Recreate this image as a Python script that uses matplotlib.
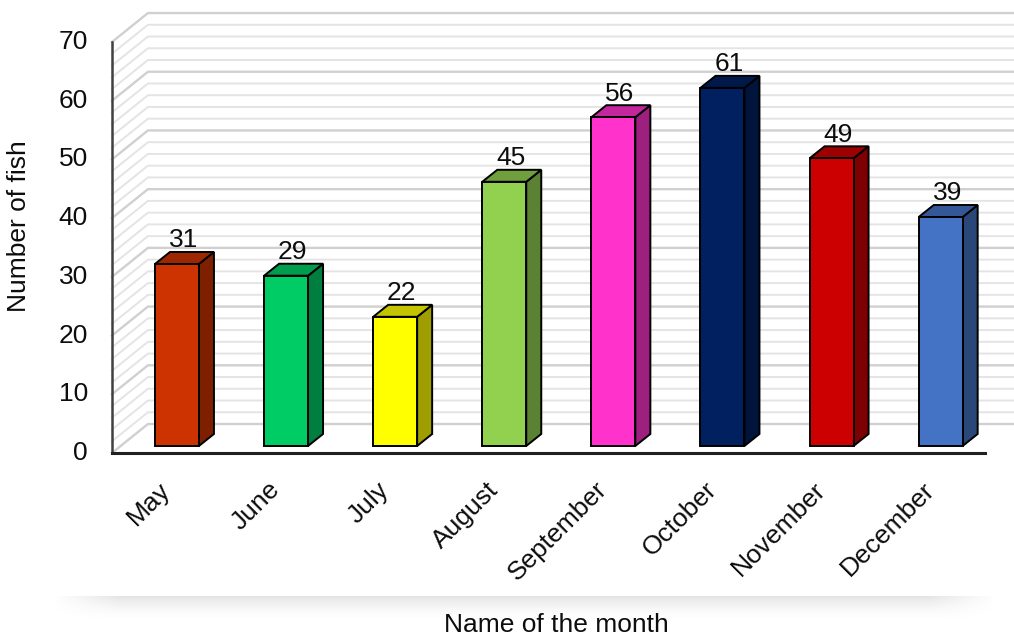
import numpy as np
import matplotlib
matplotlib.use("Agg")
import matplotlib.pyplot as plt
from matplotlib.patches import Polygon
from matplotlib.colors import to_rgb

# Data
months = ["May", "June", "July", "August", "September", "October", "November", "December"]
fish = [31, 29, 22, 45, 56, 61, 49, 39]
bar_colors = ["#CC3300", "#00CC66", "#FFFF00", "#92D050", "#FF33CC", "#002060", "#CC0000", "#4472C4"]
y_ticks = list(range(0, 71, 10))

# Pseudo-3D layout (data units: x = category index, y = value)
axis_x = -0.596          # front left corner of the plot box
floor_end = 7.406        # front right end of the floor
depth_dx, depth_dy = 0.33, 4.94   # offset of the back wall
bar_w = 0.403
bar_dx, bar_dy = 0.1375, 2.04     # depth of each bar
bar_base = 1.2
txt_col = '#0d0d0d'


def shade(c, k):
    r, g, b = to_rgb(c)
    return (r * k, g * k, b * k)


plt.rcParams['font.family'] = ['Liberation Sans', 'DejaVu Sans']

fig = plt.figure(figsize=(10.14, 6.39), dpi=100)
ax = fig.add_axes([0, 0, 1, 1])
ax.axis('off')

# back wall + side wall gridlines
for v in range(0, 71, 2):
    major = v % 10 == 0
    col = '#d0d0d0' if major else '#e4e4e4'
    lw = 1.7 if major else 1.4
    ax.plot([axis_x, axis_x + depth_dx, floor_end + depth_dx + 0.2],
            [v, v + depth_dy, v + depth_dy], color=col, lw=lw, zorder=1,
            solid_joinstyle='miter')

# axis lines
ax.plot([axis_x, axis_x], [0, 70], color='#404040', lw=1.8, zorder=2)
ax.plot([axis_x, floor_end], [0, 0], color='#202020', lw=2.2, zorder=2)

# bars
for i, (v, c) in enumerate(zip(fish, bar_colors)):
    x0, x1 = i - bar_w / 2, i + bar_w / 2
    y0, y1 = bar_base, bar_base + v
    front = [(x0, y0), (x1, y0), (x1, y1), (x0, y1)]
    side = [(x1, y0), (x1 + bar_dx, y0 + bar_dy), (x1 + bar_dx, y1 + bar_dy), (x1, y1)]
    top = [(x0, y1), (x1, y1), (x1 + bar_dx, y1 + bar_dy), (x0 + bar_dx, y1 + bar_dy)]
    for pts, fc in [(side, shade(c, 0.62)), (top, shade(c, 0.77)), (front, c)]:
        ax.add_patch(Polygon(pts, closed=True, facecolor=fc, edgecolor='black',
                             lw=1.4, joinstyle='miter', zorder=3))
    ax.text(i + 0.06, y1 + bar_dy + 0.8, str(v), ha='center', va='baseline',
            fontsize=19, color=txt_col, zorder=4)
    ax.text(i - 0.09, -5.6, months[i], rotation=45, rotation_mode='anchor',
            ha='right', va='center', fontsize=19, color=txt_col)

# y tick labels
for t in y_ticks:
    ax.text(-0.816, t, str(t), ha='right', va='center', fontsize=19, color=txt_col)

ax.text(-1.445, 38.6, "Number of fish", rotation=90, ha='center', va='center',
        fontsize=19, color=txt_col)
ax.text(3.474, -29.3, "Name of the month", ha='center', va='center',
        fontsize=19, color=txt_col)

# soft drop shadow under the chart area
ny, nx = 40, 400
ty = np.linspace(0, 1, ny)[:, None]
tx = np.linspace(0, 1, nx)[None, :]
edge = np.clip(np.minimum(tx, 1 - tx) / 0.07, 0, 1)
alpha = 0.16 * (1 - ty) ** 2 * edge
img = np.zeros((ny, nx, 4))
img[..., :3] = 0.35
img[..., 3] = alpha
ax.imshow(img, extent=(-1.146, 7.507, -29.1, -24.36), origin='upper',
          aspect='auto', zorder=0, interpolation='bilinear')
ax.set_xlim(-1.622, 7.672)
ax.set_ylim(-31.68, 77.16)

fig.savefig("out.png", dpi=100)
